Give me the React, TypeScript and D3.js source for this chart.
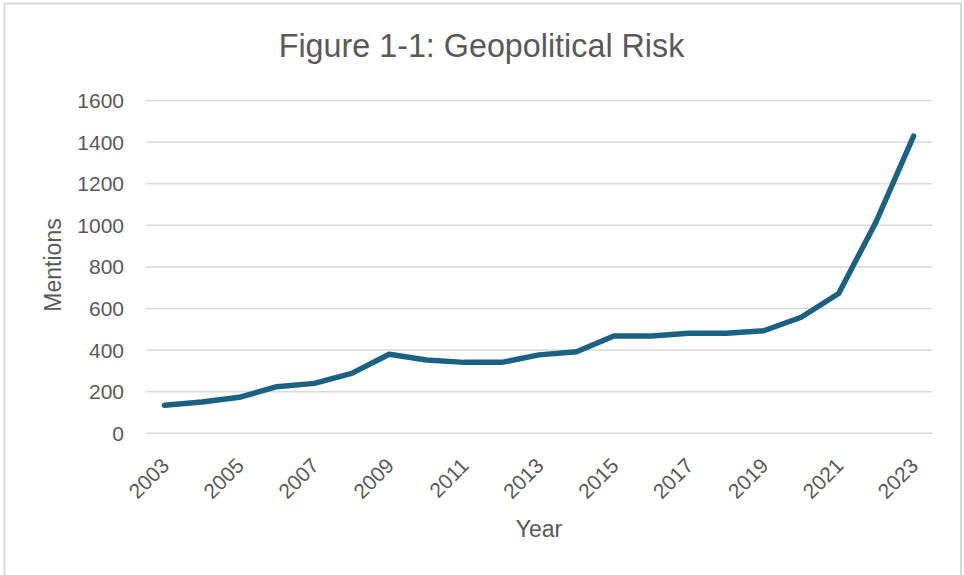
import React from "react";
import * as d3 from "d3";

const years = [
  2003, 2004, 2005, 2006, 2007, 2008, 2009, 2010, 2011, 2012, 2013,
  2014, 2015, 2016, 2017, 2018, 2019, 2020, 2021, 2022, 2023,
];
const mentions = [
  135, 150, 173, 224, 240, 288, 380, 352, 341, 341, 377,
  392, 468, 468, 481, 481, 493, 558, 672, 1017, 1429,
];
const yTicks = [0, 200, 400, 600, 800, 1000, 1200, 1400, 1600];
const labelledYears = [2003, 2005, 2007, 2009, 2011, 2013, 2015, 2017, 2019, 2021, 2023];

const W = 964;
const H = 575;
const plot = { left: 145.7, right: 932.3, top: 100.5, bottom: 433.3 };
const textColor = "#595959";
const gridColor = "#d9d9d9";
const lineColor = "#1b6182";
const bodyFont = "'Liberation Sans', Arial, sans-serif";

export default function App() {
  const x = d3
    .scaleBand<number>()
    .domain(years)
    .range([plot.left, plot.right]);
  const cx = (yr: number) => (x(yr) as number) + x.bandwidth() / 2;
  const y = d3.scaleLinear().domain([0, 1600]).range([plot.bottom, plot.top]);

  const line = d3
    .line<number>()
    .x((_, i) => cx(years[i]))
    .y((d) => y(d));

  const titleX = 481.5;

  return (
    <svg
      width={W}
      height={H}
      style={{ position: "absolute", left: 0, top: 0, display: "block" }}
    >
      <rect x={0} y={0} width={W} height={H} fill="#ffffff" />
      <rect
        x={4.5}
        y={3.5}
        width={956.5}
        height={H + 10}
        fill="#ffffff"
        stroke={gridColor}
        strokeWidth={2}
      />

      <text
        transform={`translate(${titleX},57) scale(0.95,1)`}
        textAnchor="middle"
        fill={textColor}
        fontFamily={bodyFont}
        fontSize={34}
      >
        Figure 1-1: Geopolitical Risk
      </text>

      {yTicks.map((t) => (
        <g key={t}>
          <line
            x1={plot.left}
            x2={plot.right}
            y1={y(t)}
            y2={y(t)}
            stroke={gridColor}
            strokeWidth={1.5}
          />
          <text
            x={124}
            y={y(t)}
            dy="0.36em"
            textAnchor="end"
            fill={textColor}
            fontFamily={bodyFont}
            fontSize={21}
          >
            {t}
          </text>
        </g>
      ))}

      {labelledYears.map((yr) => (
        <text
          key={yr}
          transform={`translate(${cx(yr) + 6},${467}) rotate(-45)`}
          textAnchor="end"
          fill={textColor}
          fontFamily={bodyFont}
          fontSize={21}
        >
          {yr}
        </text>
      ))}

      <text
        transform={`translate(${61},${265}) rotate(-90)`}
        textAnchor="middle"
        fill={textColor}
        fontFamily={bodyFont}
        fontSize={23}
      >
        Mentions
      </text>

      <text
        x={(plot.left + plot.right) / 2}
        y={537}
        textAnchor="middle"
        fill={textColor}
        fontFamily={bodyFont}
        fontSize={23}
      >
        Year
      </text>

      <path
        d={line(mentions) ?? ""}
        fill="none"
        stroke={lineColor}
        strokeWidth={5.5}
        strokeLinejoin="round"
        strokeLinecap="round"
      />
    </svg>
  );
}
